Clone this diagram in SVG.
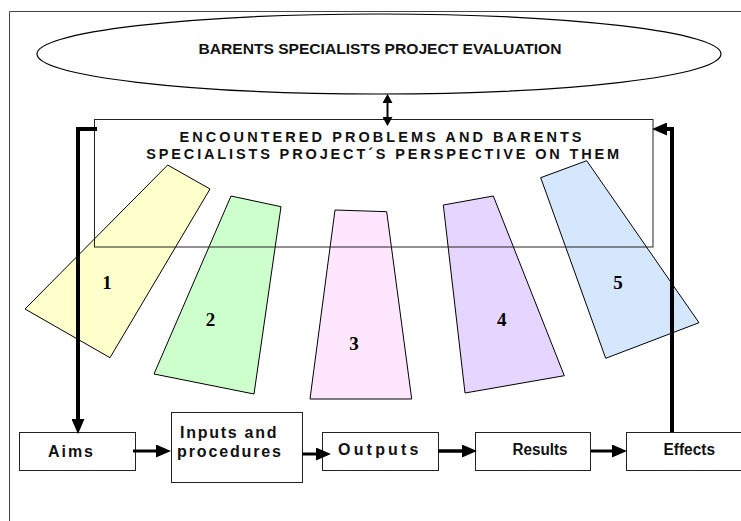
<svg xmlns="http://www.w3.org/2000/svg" width="741" height="521" viewBox="0 0 741 521">
<style>
.frame{fill:none;stroke:#444;stroke-width:1}
.shape{stroke:#000;stroke-width:1}
.box{fill:#fff;stroke:#222;stroke-width:1}
.hdr{font-family:"Liberation Sans",Arial,sans-serif;font-weight:bold;fill:#111}
.lbl{font-family:"Liberation Sans",Arial,sans-serif;font-weight:bold;font-size:16px;fill:#111}
.num{font-family:"Liberation Serif","Times New Roman",serif;font-weight:bold;font-size:19px;fill:#000;text-anchor:middle}
.conn{fill:none;stroke:#000}
</style>
<defs>
<marker id="ah" markerUnits="userSpaceOnUse" markerWidth="15" markerHeight="13" refX="0" refY="6.5" orient="auto" viewBox="0 0 15 13">
<path d="M0,0 L15,6.5 L0,13 z" fill="#000"/>
</marker>
<marker id="ahs" markerUnits="userSpaceOnUse" markerWidth="9" markerHeight="10" refX="0" refY="5" orient="auto-start-reverse" viewBox="0 0 9 10">
<path d="M0,0 L9,5 L0,10 z" fill="#000"/>
</marker>
</defs>
<rect width="741" height="521" fill="#fff"/>
<path class="frame" d="M9.5,521 V11.5 H741"/>

<g id="evaluation">
<ellipse cx="379" cy="54" rx="342" ry="40" fill="#fff" stroke="#000" stroke-width="1.2"/>
<text class="hdr" x="380" y="53.5" font-size="15" text-anchor="middle" textLength="363" lengthAdjust="spacingAndGlyphs">BARENTS SPECIALISTS PROJECT EVALUATION</text>
</g>

<g id="problem1"><polygon class="shape" fill="#FFFFCC" points="167.7,165 210,189 110,357.7 25,309"/><text class="num" x="107" y="289">1</text></g>
<g id="problem2"><polygon class="shape" fill="#CCFFCC" points="231,196 281,206.7 254,394 154,374"/><text class="num" x="210.5" y="326">2</text></g>
<g id="problem3"><polygon class="shape" fill="#FFE6FF" points="335,210 386.7,211.7 411.7,399 310,399"/><text class="num" x="354" y="350">3</text></g>
<g id="problem4"><polygon class="shape" fill="#E6D6FF" points="443.3,205 493.3,196 564.3,375.7 465,393"/><text class="num" x="501.7" y="326">4</text></g>
<g id="problem5"><polygon class="shape" fill="#D4E7FD" points="540.7,177.7 586.7,160.7 699,322.7 605.7,358.3"/><text class="num" x="618" y="289">5</text></g>

<g id="problems">
<rect x="94.5" y="119.5" width="558.5" height="127.5" fill="none" stroke="#222" stroke-width="1"/>
<text class="hdr" x="380.5" y="141.5" font-size="14.5" text-anchor="middle" textLength="402" lengthAdjust="spacing">ENCOUNTERED PROBLEMS AND BARENTS</text>
<text class="hdr" x="382.7" y="159" font-size="14.5" text-anchor="middle" textLength="473" lengthAdjust="spacing">SPECIALISTS PROJECT´S PERSPECTIVE ON THEM</text>
</g>

<g id="aims"><rect class="box" x="19.5" y="432.5" width="116" height="38"/><text class="lbl" x="48" y="457" textLength="45" lengthAdjust="spacing">Aims</text></g>
<g id="inputs"><rect class="box" x="171.5" y="412.5" width="131" height="70"/><text class="lbl" x="180" y="438" textLength="96.5" lengthAdjust="spacing">Inputs and</text><text class="lbl" x="177" y="457" textLength="104" lengthAdjust="spacing">procedures</text></g>
<g id="outputs"><rect class="box" x="322.5" y="432.5" width="116" height="38"/><text class="lbl" x="338" y="455" textLength="80.5" lengthAdjust="spacing">Outputs</text></g>
<g id="results"><rect class="box" x="475.5" y="432.5" width="115" height="38"/><text class="lbl" x="512.5" y="455" textLength="55" lengthAdjust="spacingAndGlyphs">Results</text></g>
<g id="effects"><rect class="box" x="626.5" y="432.5" width="130" height="38"/><text class="lbl" x="663.5" y="455" textLength="51.5" lengthAdjust="spacingAndGlyphs">Effects</text></g>

<g id="connectors">
<path class="conn" stroke-width="2" d="M387.5,103 V117" marker-start="url(#ahs)" marker-end="url(#ahs)"/>
<path class="conn" stroke-width="4" d="M97,129 H78 V419" marker-end="url(#ah)"/>
<path class="conn" stroke-width="4" d="M672,432 V129 H667" marker-end="url(#ah)"/>
<path class="conn" stroke-width="3" d="M133,451 H156" marker-end="url(#ah)"/>
<path class="conn" stroke-width="3" d="M302,454 H316" marker-end="url(#ah)"/>
<path class="conn" stroke-width="3.5" d="M438,451 H462" marker-end="url(#ah)"/>
<path class="conn" stroke-width="3" d="M591,451 H612" marker-end="url(#ah)"/>
</g>
</svg>
